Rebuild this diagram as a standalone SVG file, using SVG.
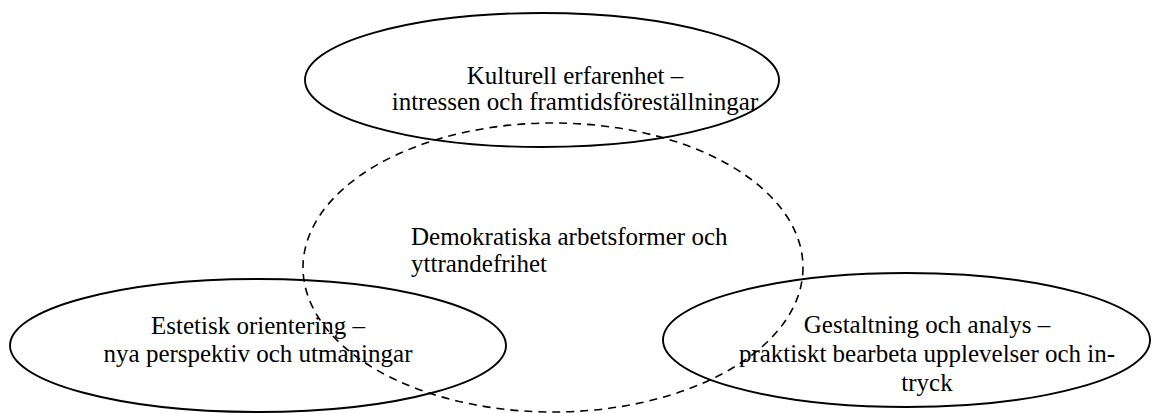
<svg xmlns="http://www.w3.org/2000/svg" width="1165" height="413" viewBox="0 0 1165 413">
  <style>
    .solid { fill: none; stroke: #000; stroke-width: 1.9; }
    .dashed { fill: none; stroke: #000; stroke-width: 1.6; stroke-dasharray: 8 6; }
    .t { font-family: "Liberation Serif", "Times New Roman", serif; font-size: 25px; fill: #000; }
    .c { text-anchor: middle; }
  </style>
  <rect width="1165" height="413" fill="#fff"/>
  <g id="connectors"/>
  <g id="node-demokrati">
    <ellipse class="dashed" cx="553" cy="267.5" rx="250" ry="144.5"/>
    <text class="t" x="411" y="245">Demokratiska arbetsformer och</text>
    <text class="t" x="411" y="272">yttrandefrihet</text>
  </g>
  <g id="node-kulturell">
    <ellipse class="solid" cx="542" cy="80" rx="237" ry="67"/>
    <text class="t c" x="575" y="84">Kulturell erfarenhet –</text>
    <text class="t c" x="575" y="110">intressen och framtidsföreställningar</text>
  </g>
  <g id="node-estetisk">
    <ellipse class="solid" cx="258" cy="345.5" rx="248" ry="66.5"/>
    <text class="t c" x="258" y="334">Estetisk orientering –</text>
    <text class="t c" x="258" y="362">nya perspektiv och utmaningar</text>
  </g>
  <g id="node-gestaltning">
    <ellipse class="solid" cx="906.5" cy="340" rx="243.5" ry="67"/>
    <text class="t c" x="927" y="333">Gestaltning och analys –</text>
    <text class="t c" x="927" y="362">praktiskt bearbeta upplevelser och in-</text>
    <text class="t c" x="927" y="391">tryck</text>
  </g>
</svg>
